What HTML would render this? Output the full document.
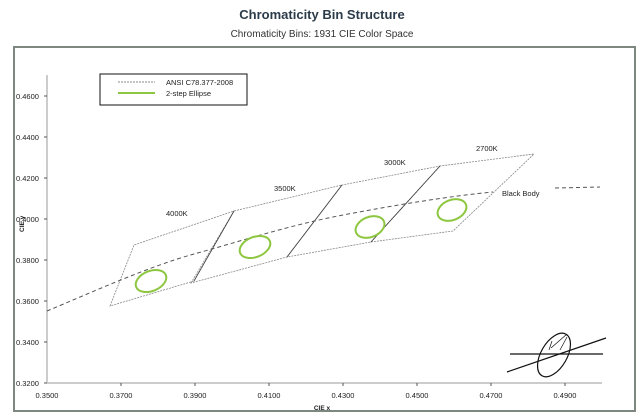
<!DOCTYPE html><html><head><style>body{margin:0;background:#fff}svg{display:block;font-family:"Liberation Sans",sans-serif}</style></head><body>
<svg width="639" height="419" viewBox="0 0 639 419">
<text x="322" y="19" text-anchor="middle" font-size="13" font-weight="bold" fill="#2c3b4a">Chromaticity Bin Structure</text>
<text x="322" y="37" text-anchor="middle" font-size="10" fill="#333">Chromaticity Bins: 1931 CIE Color Space</text>
<rect x="14" y="47" width="621" height="364" fill="none" stroke="#7d877f" stroke-width="2"/>
<line x1="47" y1="75" x2="47" y2="383" stroke="#ccc" stroke-width="2"/>
<line x1="47" y1="383" x2="602" y2="383" stroke="#ccc" stroke-width="2"/>
<g font-size="7.5" fill="#222">
<text x="16" y="99">0.4600</text><text x="16" y="140">0.4400</text><text x="16" y="181">0.4200</text><text x="16" y="222">0.4000</text><text x="16" y="263">0.3800</text><text x="16" y="304">0.3600</text><text x="16" y="345">0.3400</text><text x="16" y="386">0.3200</text>
<g text-anchor="middle"><text x="47" y="398">0.3500</text><text x="121" y="398">0.3700</text><text x="195" y="398">0.3900</text><text x="269" y="398">0.4100</text><text x="343" y="398">0.4300</text><text x="417" y="398">0.4500</text><text x="491" y="398">0.4700</text><text x="565" y="398">0.4900</text></g>
<text x="322" y="410" text-anchor="middle" font-weight="bold" font-size="6.5">CIE x</text>
<text transform="translate(24,232) rotate(-90)" font-weight="bold" font-size="6.5">CIE y</text>
</g>
<g stroke="#555" stroke-width="1">
<path d="M44,96h3M44,137h3M44,178h3M44,219h3M44,260h3M44,301h3M44,342h3M44,383h3M121,383v3M195,383v3M269,383v3M343,383v3M417,383v3M491,383v3M565,383v3"/>
</g>
<g fill="none" stroke="#888" stroke-width="0.8" stroke-dasharray="2,1">
<path d="M110,306L134,245L234,211L194,281Z"/>
<path d="M191,283L234,211L342,185L287,257Z"/>
<path d="M287,257L342,185L440,166L371,242Z"/>
<path d="M371,242L440,166L534,154L453,231Z"/>
</g>
<g fill="none" stroke="#444" stroke-width="0.8">
<path d="M194,281L234,211M287,257L342,185M371,242L440,166"/>
</g>
<path d="M47,311 C90,293 150,266 194,254 S290,225 343,215 S450,196 493,192" fill="none" stroke="#555" stroke-width="1" stroke-dasharray="4,3"/>
<path d="M555,188L600,187" fill="none" stroke="#555" stroke-width="1" stroke-dasharray="4,3"/>
<g fill="none" stroke="#8dc63f" stroke-width="2">
<ellipse cx="151" cy="281" rx="16" ry="10" transform="rotate(-22 151 281)"/>
<ellipse cx="255" cy="247" rx="16" ry="10" transform="rotate(-22 255 247)"/>
<ellipse cx="370" cy="227" rx="15" ry="10" transform="rotate(-22 370 227)"/>
<ellipse cx="452" cy="210" rx="15" ry="10" transform="rotate(-22 452 210)"/>
</g>
<g font-size="7.5" fill="#222">
<text x="166" y="216">4000K</text><text x="274" y="191">3500K</text><text x="384" y="165">3000K</text><text x="476" y="151">2700K</text><text x="502" y="196">Black Body</text>
</g>
<rect x="100" y="74" width="147" height="31" fill="#fff" stroke="#111" stroke-width="1"/>
<line x1="118" y1="82" x2="155" y2="82" stroke="#888" stroke-dasharray="2,1"/>
<line x1="118" y1="93" x2="155" y2="93" stroke="#8dc63f" stroke-width="2"/>
<text x="166" y="85" font-size="7.5" fill="#222">ANSI C78.377-2008</text>
<text x="166" y="96" font-size="7.5" fill="#222">2-step Ellipse</text>
<g fill="none" stroke="#111" stroke-width="1.2">
<line x1="510" y1="354" x2="603" y2="354"/>
<line x1="507" y1="372" x2="606" y2="338"/>
<ellipse cx="554" cy="355" rx="13" ry="24" transform="rotate(30 554 355)"/>
<path d="M551,348L567,334M549,350L552,341M560,350L567,337" stroke-width="0.7"/>
</g>
</svg></body></html>
